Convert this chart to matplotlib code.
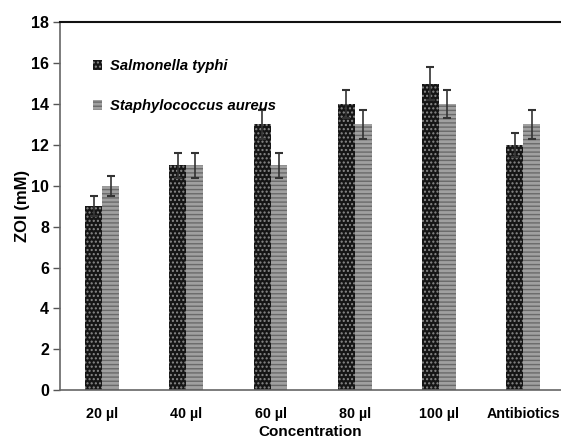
import matplotlib
matplotlib.use("Agg")
import matplotlib.pyplot as plt
import numpy as np

plt.rcParams['font.family'] = ['Liberation Sans', 'DejaVu Sans']
plt.rcParams['hatch.linewidth'] = 1.0

categories = ["20 µl", "40 µl", "60 µl", "80 µl", "100 µl", "Antibiotics"]
salmonella = [9, 11, 13, 14, 15, 12]
salmonella_err = [0.5, 0.6, 0.7, 0.7, 0.8, 0.6]
staph = [10, 11, 11, 13, 14, 13]
staph_err = [0.5, 0.6, 0.6, 0.7, 0.7, 0.7]

fig = plt.figure(figsize=(5.61, 4.43), dpi=100)
ax = fig.add_axes([0.107, 0.119, 0.893, 0.831])

x = np.arange(len(categories))
w = 0.2
ax.bar(x - w/2, salmonella, w, color='#151515', hatch='....', edgecolor='#8a8a8a',
       linewidth=0, label='Salmonella typhi')
ax.bar(x + w/2, staph, w, color='#a0a0a0', hatch='----', edgecolor='#6a6a6a',
       linewidth=0, label='Staphylococcus aureus')
ax.errorbar(x - w/2, salmonella, yerr=salmonella_err, fmt='none', ecolor='#333333',
            elinewidth=1.2, capsize=3, capthick=1.5)
ax.errorbar(x + w/2, staph, yerr=staph_err, fmt='none', ecolor='#333333',
            elinewidth=1.2, capsize=3, capthick=1.5)

ax.set_xlim(-0.5, 5.45)
ax.set_ylim(0, 18)
ax.set_yticks(range(0, 19, 2))
ax.set_xticks(x)
ax.set_xticklabels(categories, fontweight='bold', fontsize=10.3)
for t in ax.get_yticklabels():
    t.set_fontweight('bold')
    t.set_fontsize(11.5)
ax.tick_params(axis='x', length=0, pad=12)
ax.tick_params(axis='y', direction='out', length=5, width=1, color='#555555', pad=3)
ax.spines['right'].set_visible(False)
for s in ['left', 'bottom']:
    ax.spines[s].set_color('#666666')
    ax.spines[s].set_linewidth(1.2)
ax.spines['top'].set_color('#111111')
ax.spines['top'].set_linewidth(1.5)

ax.set_ylabel('ZOI (mM)', fontweight='bold', fontsize=12, labelpad=1)
ax.set_xlabel('Concentration', fontweight='bold', fontsize=11, labelpad=3)

ax.legend(loc='upper left', bbox_to_anchor=(0.04, 0.935), frameon=False,
          prop={'weight': 'bold', 'style': 'italic', 'size': 10.6},
          handlelength=0.6, handleheight=0.6, handletextpad=0.5,
          labelspacing=1.75)

fig.savefig('out.png', dpi=100)
